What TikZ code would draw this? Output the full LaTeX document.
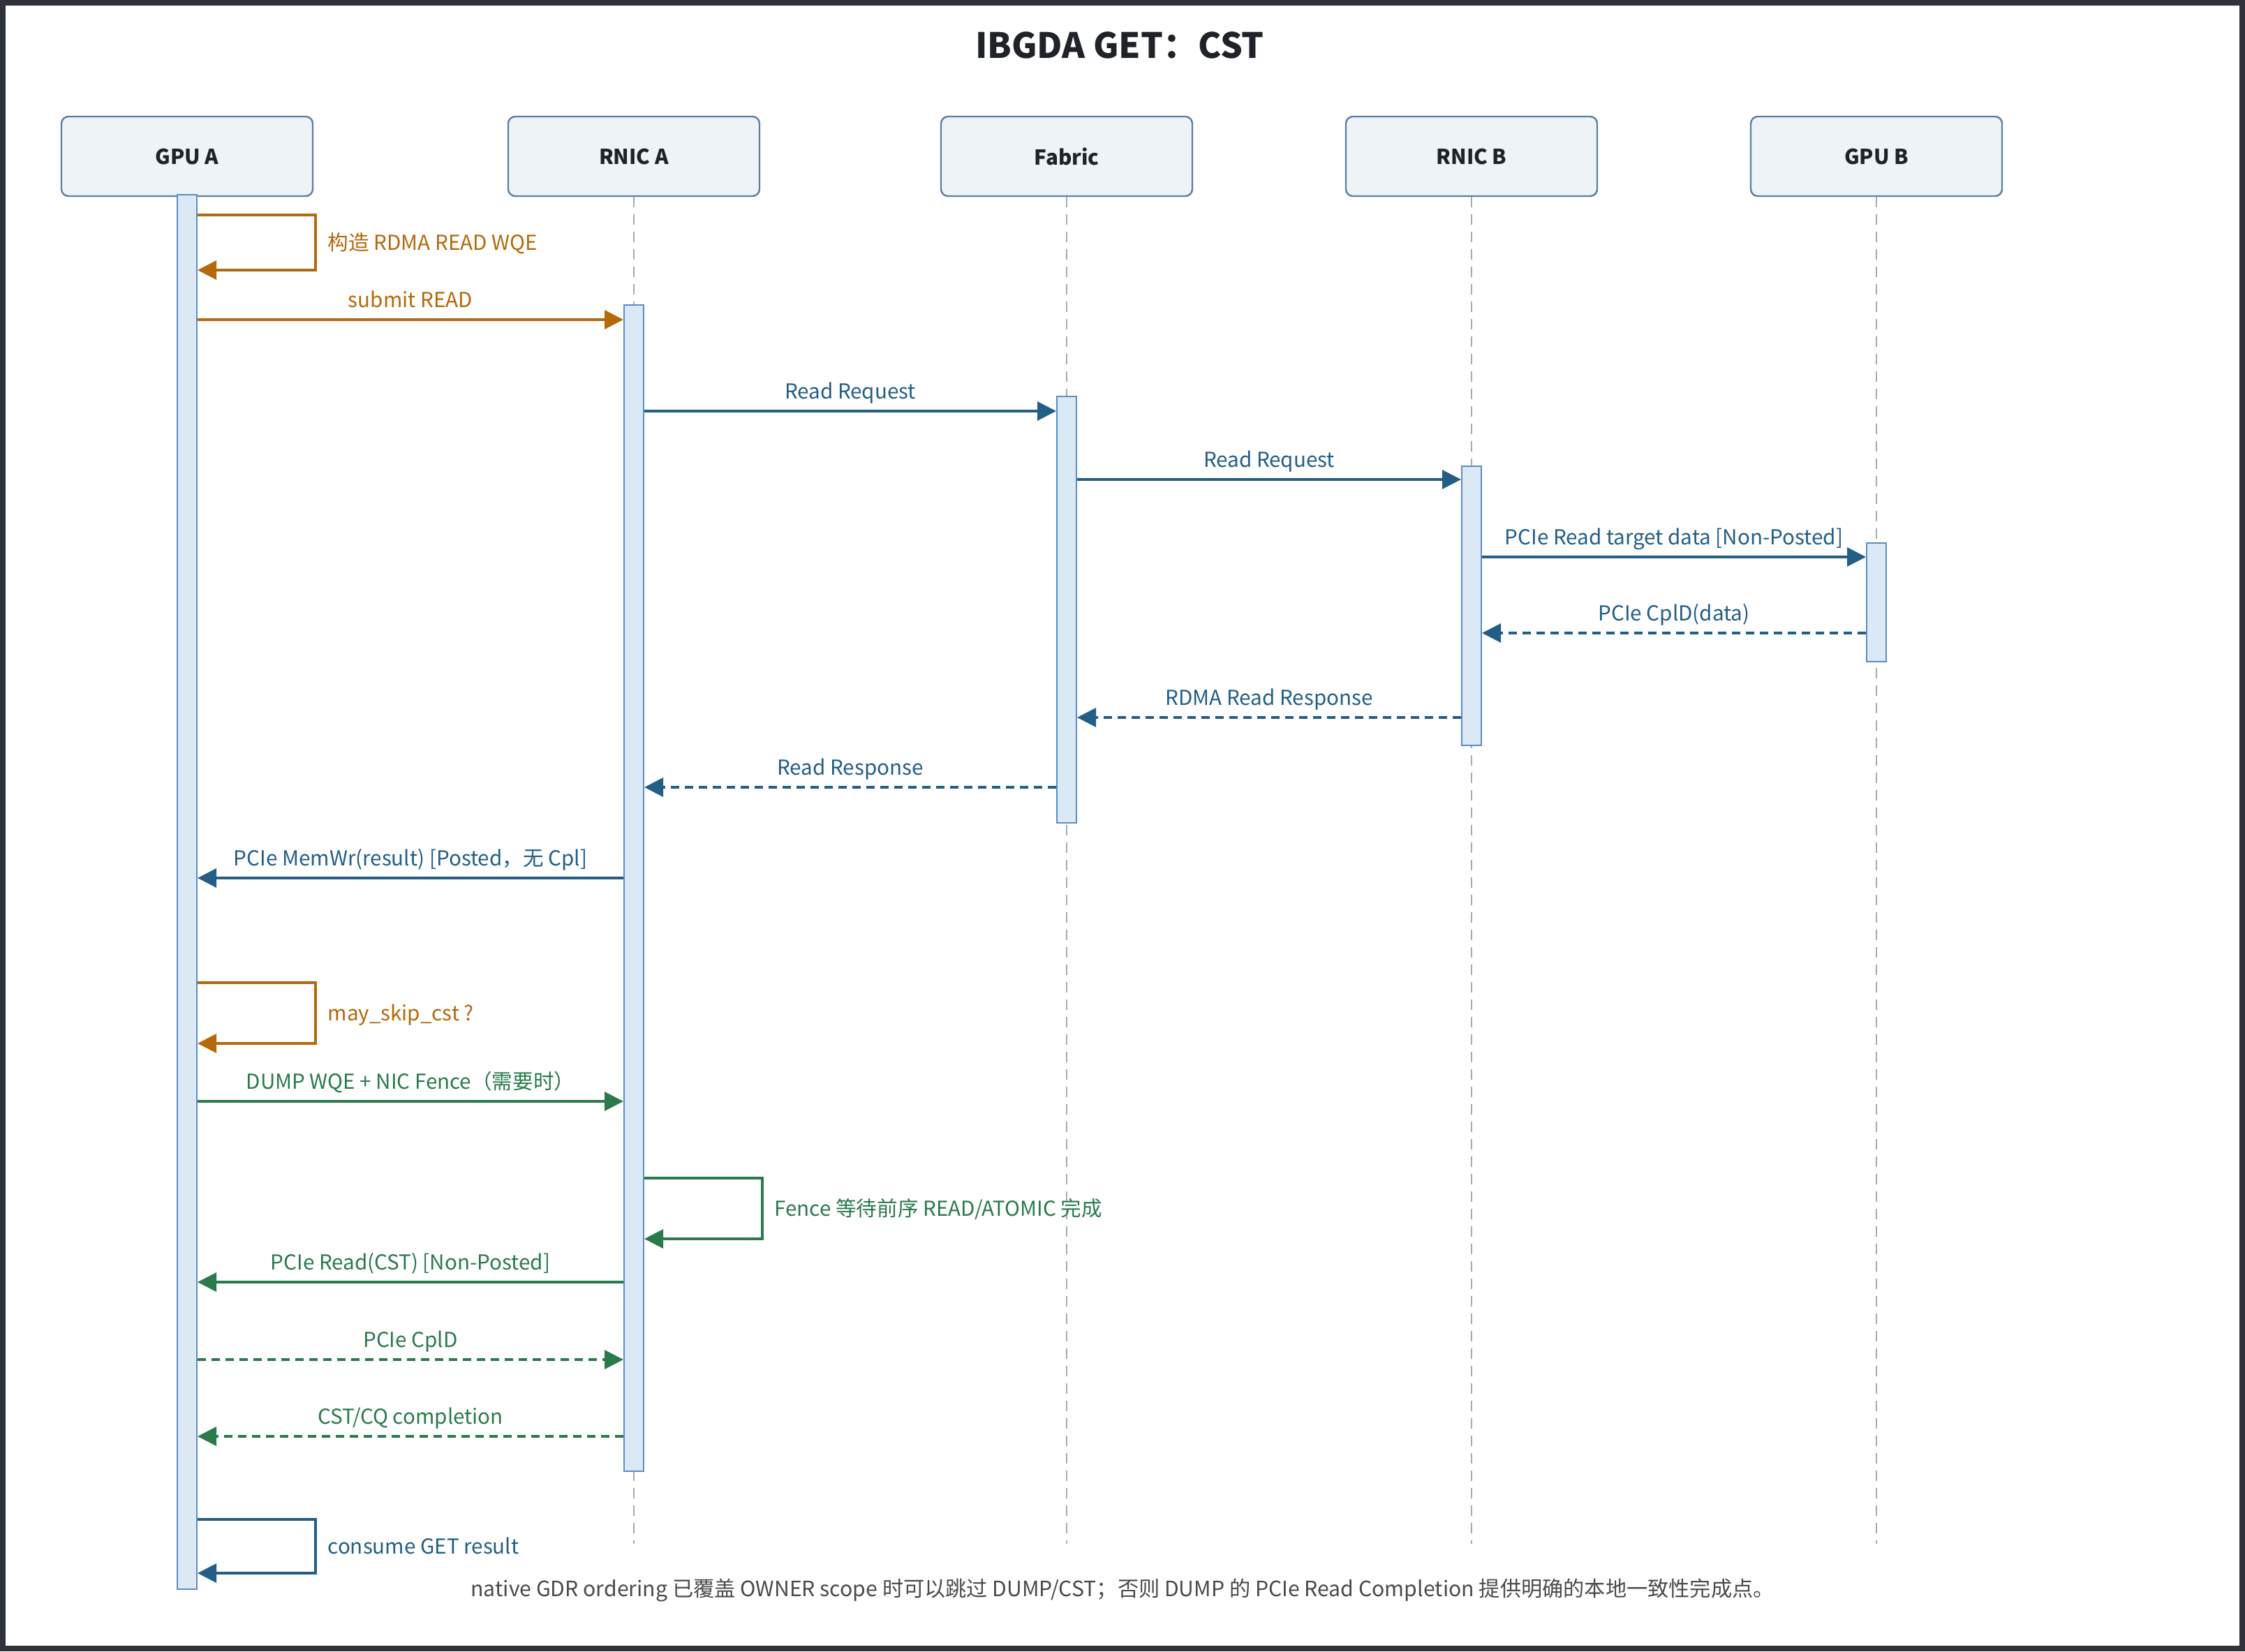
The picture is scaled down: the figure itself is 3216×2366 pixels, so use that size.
\documentclass[tikz,border=0pt]{standalone}
\usepackage{fontspec}
\setmainfont{Noto Sans CJK SC}
\usetikzlibrary{arrows.meta}

\definecolor{framedark}{HTML}{2F3239}
\definecolor{titletext}{HTML}{1F2329}
\definecolor{boxfill}{HTML}{EEF3F8}
\definecolor{boxline}{HTML}{5A7FA5}
\definecolor{barfill}{HTML}{DBE8F6}
\definecolor{barline}{HTML}{5B8DC4}
\definecolor{lifegray}{HTML}{A3ABB5}
\definecolor{msgorange}{HTML}{B5690A}
\definecolor{msgblue}{HTML}{225E87}
\definecolor{msggreen}{HTML}{2A7A4C}
\definecolor{notegray}{HTML}{4A4A4A}

\newcommand\lblfont{\fontsize{14.8}{17}\selectfont}

\begin{document}
\begin{tikzpicture}[x=0.5pt, y=-0.5pt,
    actor/.style={draw=boxline, fill=boxfill, rounded corners=5pt, line width=1.2pt,
      minimum width=180pt, minimum height=57pt, font=\lblfont\bfseries, text=titletext},
    lifeline/.style={draw=lifegray, line width=1pt, dash pattern=on 7.5pt off 5pt},
    actbar/.style={draw=barline, fill=barfill, line width=1pt, minimum width=14pt, inner sep=0pt},
    msg/.style={line width=1.6pt, -{Triangle[length=13.5pt,width=13.5pt]}},
    reply/.style={msg, dash pattern=on 6pt off 4pt},
    lbl/.style={font=\lblfont, midway, anchor=base, yshift=9pt, inner sep=0pt},
    selflbl/.style={font=\lblfont, pos=0.75, anchor=base west, xshift=8pt, yshift=-5.4pt, inner sep=0pt}]

  % frame
  \fill[framedark] (0,0) rectangle (3216,2366);
  \fill[white] (8,8) rectangle (3208,2358);

  \node[font=\fontsize{25}{30}\selectfont\bfseries, text=titletext, anchor=base] (title) at (1604,83) {IBGDA GET：CST};

  % participants
  \node[actor] (GA) at (268,224) {GPU A};
  \node[actor] (RA) at (908,224) {RNIC A};
  \node[actor] (FB) at (1528,224) {Fabric};
  \node[actor] (RB) at (2108,224) {RNIC B};
  \node[actor] (GB) at (2688,224) {GPU B};

  \coordinate (lifeend) at (0,2212);
  \foreach \a in {GA,RA,FB,RB,GB}
    \draw[lifeline] (\a.south) -- (\a.south |- lifeend);

  % activations
  \node[actbar, minimum height=999pt] (barGA) at (268,1278) {};
  \node[actbar, minimum height=835.5pt] (barRA) at (908,1272.5) {};
  \node[actbar, minimum height=305.5pt] (barFB) at (1528,873.5) {};
  \node[actbar, minimum height=200pt] (barRB) at (2108,868) {};
  \node[actbar, minimum height=85pt] (barGB) at (2688,863) {};

  \foreach \n/\y in {s1a/308, s1b/387, m2/458, m3/589, m4/687, m5/798, m6/907, m7/1028,
      m8/1128, m9/1258, s10a/1408, s10b/1495, m11/1578, s12a/1688, s12b/1775,
      m13/1837, m14/1948, m15/2058, s16a/2177, s16b/2254}
    \coordinate (\n) at (0,\y);
  \coordinate (loopGA) at (452,0);
  \coordinate (loopRA) at (1092,0);

  % messages
  \draw[msg, msgorange] (barGA.east |- s1a) -| node[selflbl] {构造 RDMA READ WQE} (loopGA |- s1b) -- (barGA.east |- s1b);
  \draw[msg, msgorange] (barGA.east |- m2) -- node[lbl] {submit READ} (barRA.west |- m2);
  \draw[msg, msgblue] (barRA.east |- m3) -- node[lbl] {Read Request} (barFB.west |- m3);
  \draw[msg, msgblue] (barFB.east |- m4) -- node[lbl] {Read Request} (barRB.west |- m4);
  \draw[msg, msgblue] (barRB.east |- m5) -- node[lbl] {PCIe Read target data [Non-Posted]} (barGB.west |- m5);
  \draw[reply, msgblue] (barGB.west |- m6) -- node[lbl] {PCIe CplD(data)} (barRB.east |- m6);
  \draw[reply, msgblue] (barRB.west |- m7) -- node[lbl] {RDMA Read Response} (barFB.east |- m7);
  \draw[reply, msgblue] (barFB.west |- m8) -- node[lbl] {Read Response} (barRA.east |- m8);
  \draw[msg, msgblue] (barRA.west |- m9) -- node[lbl] {PCIe MemWr(result) [Posted，无 Cpl]} (barGA.east |- m9);
  \draw[msg, msgorange] (barGA.east |- s10a) -| node[selflbl] {may\_skip\_cst ?} (loopGA |- s10b) -- (barGA.east |- s10b);
  \draw[msg, msggreen] (barGA.east |- m11) -- node[lbl] {DUMP WQE + NIC Fence（需要时）} (barRA.west |- m11);
  \draw[msg, msggreen] (barRA.east |- s12a) -| node[selflbl] {Fence 等待前序 READ/ATOMIC 完成} (loopRA |- s12b) -- (barRA.east |- s12b);
  \draw[msg, msggreen] (barRA.west |- m13) -- node[lbl] {PCIe Read(CST) [Non-Posted]} (barGA.east |- m13);
  \draw[reply, msggreen] (barGA.east |- m14) -- node[lbl] {PCIe CplD} (barRA.west |- m14);
  \draw[reply, msggreen] (barRA.west |- m15) -- node[lbl] {CST/CQ completion} (barGA.east |- m15);
  \draw[msg, msgblue] (barGA.east |- s16a) -| node[selflbl] {consume GET result} (loopGA |- s16b) -- (barGA.east |- s16b);

  \node[font=\fontsize{15.1}{18}\selectfont, text=notegray, anchor=base] (note) at (1608,2287)
    {native GDR ordering 已覆盖 OWNER scope 时可以跳过 DUMP/CST；否则 DUMP 的 PCIe Read Completion 提供明确的本地一致性完成点。};
\end{tikzpicture}
\end{document}
